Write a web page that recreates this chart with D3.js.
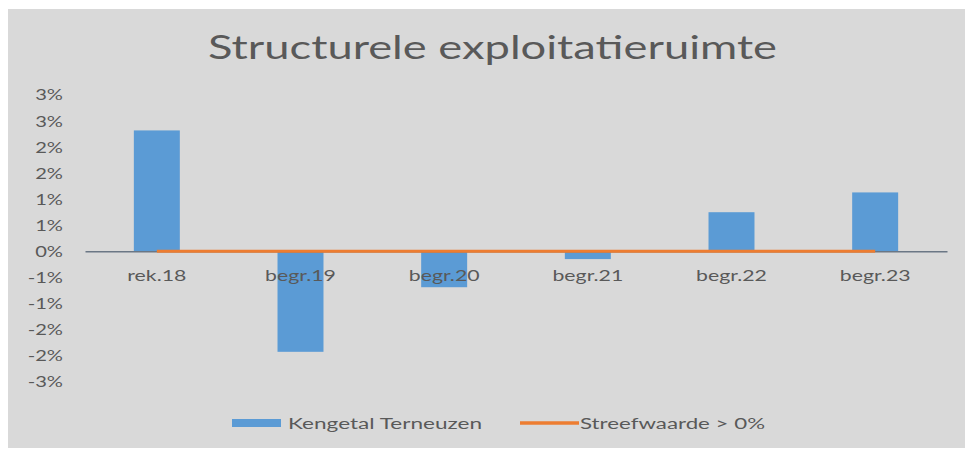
<!DOCTYPE html>
<html>
<head>
<meta charset="utf-8">
<script src="https://cdn.jsdelivr.net/npm/d3@7"></script>
<style>
  html, body { margin: 0; padding: 0; background: #ffffff; }
  svg { display: block; }
</style>
</head>
<body>
<svg id="chart" width="965" height="450"></svg>
<script>
const categories = ["rek.18", "begr.19", "begr.20", "begr.21", "begr.22", "begr.23"];
const kengetal = [2.32, -1.93, -0.69, -0.15, 0.75, 1.13];
const streefwaarde = [0, 0, 0, 0, 0, 0];
const tickValues = [-2.5, -2.0, -1.5, -1.0, -0.5, 0, 0.5, 1.0, 1.5, 2.0, 2.5, 3.0];
const tickLabels = ["-3%", "-2%", "-2%", "-1%", "-1%", "0%", "1%", "1%", "2%", "2%", "3%", "3%"];
const seriesNames = ["Kengetal Terneuzen", "Streefwaarde > 0%"];
const title = "Structurele exploitatieruimte";

const svg = d3.select("#chart");
const font = "Lato, 'Open Sans', sans-serif";
const textColor = "#595959";

svg.append("rect").attr("x", 8).attr("y", 9).attr("width", 957).attr("height", 439).attr("fill", "#d9d9d9");

svg.append("text").attr("x", 208).attr("y", 59)
  .attr("font-family", font).attr("font-size", 32)
  .attr("textLength", 569).attr("lengthAdjust", "spacingAndGlyphs")
  .attr("fill", textColor).text(title);

const x = d3.scaleBand().domain(categories).range([85, 947]).paddingInner(0.68).paddingOuter(0.34);
const y = d3.scaleLinear().domain([-2.5, 3.0]).range([381.5, 95]);

// y axis labels
const yAxis = d3.axisLeft(y).tickValues(tickValues).tickSize(0).tickPadding(0)
  .tickFormat((d, i) => tickLabels[i]);
const yg = svg.append("g").attr("transform", "translate(63,0)").call(yAxis);
yg.select(".domain").remove();
yg.selectAll("text").attr("font-family", font).attr("font-size", 15.5).attr("fill", textColor)
  .attr("transform", "scale(1.3,1)");

// bars
svg.append("g").selectAll("rect").data(kengetal).join("rect")
  .attr("x", (d, i) => x(categories[i]))
  .attr("width", x.bandwidth())
  .attr("y", d => Math.min(y(d), y(0)))
  .attr("height", d => Math.abs(y(d) - y(0)))
  .attr("fill", "#5b9bd5");

// zero axis line
const xAxis = d3.axisBottom(x).tickSize(0).tickPadding(0);
const xg = svg.append("g").attr("transform", `translate(0,${y(0)})`).call(xAxis);
xg.select(".domain").attr("stroke", "#6b7785").attr("stroke-width", 1.5);
xg.selectAll("text").attr("dy", 0).attr("y", 30)
  .attr("font-family", font).attr("font-size", 16).attr("fill", textColor)
  .attr("transform", "scale(1.33,1)");

// target line
const line = d3.line().x((d, i) => x(categories[i]) + x.bandwidth() / 2).y(d => y(d));
svg.append("path").datum(streefwaarde).attr("d", line)
  .attr("fill", "none").attr("stroke", "#ed7d31").attr("stroke-width", 3);

// legend
const lg = svg.append("g");
lg.append("rect").attr("x", 232).attr("y", 419).attr("width", 49).attr("height", 8).attr("fill", "#5b9bd5");
lg.append("text").attr("x", 288).attr("y", 429).attr("font-family", font).attr("font-size", 15.5)
  .attr("textLength", 194).attr("lengthAdjust", "spacingAndGlyphs")
  .attr("fill", textColor).text(seriesNames[0]);
lg.append("line").attr("x1", 520).attr("x2", 579).attr("y1", 423).attr("y2", 423)
  .attr("stroke", "#ed7d31").attr("stroke-width", 3.5);
lg.append("text").attr("x", 580).attr("y", 429).attr("font-family", font).attr("font-size", 15.5)
  .attr("textLength", 185).attr("lengthAdjust", "spacingAndGlyphs")
  .attr("fill", textColor).text(seriesNames[1]);
</script>
</body>
</html>
